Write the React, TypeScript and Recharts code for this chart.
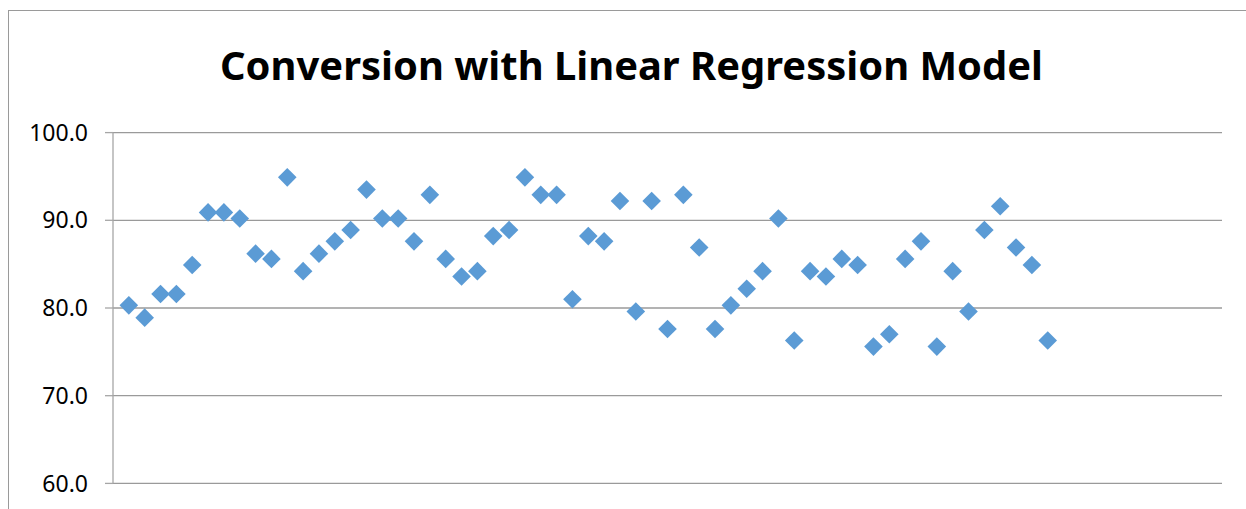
import { ScatterChart, Scatter, XAxis, YAxis, CartesianGrid, Customized } from "recharts";

const TITLE = "Conversion with Linear Regression Model";

const conversion = [
  80.3, 78.9, 81.6, 81.6, 84.9, 90.9, 90.9, 90.2, 86.2, 85.6,
  94.9, 84.2, 86.2, 87.6, 88.9, 93.5, 90.2, 90.2, 87.6, 92.9,
  85.6, 83.6, 84.2, 88.2, 88.9, 94.9, 92.9, 92.9, 81.0, 88.2,
  87.6, 92.2, 79.6, 92.2, 77.6, 92.9, 86.9, 77.6, 80.3, 82.2,
  84.2, 90.2, 76.3, 84.2, 83.6, 85.6, 84.9, 75.6, 77.0, 85.6,
  87.6, 75.6, 84.2, 79.6, 88.9, 91.6, 86.9, 84.9, 76.3,
];

const yTicks = [60, 70, 80, 90, 100];
const xDomain = [0, 70];

const points = conversion.map((v, i) => ({ x: i + 1, y: v }));

const Diamond = (props: any) => {
  const { cx, cy } = props;
  const r = 9.3;
  return (
    <polygon
      points={`${cx},${cy - r} ${cx + r},${cy} ${cx},${cy + r} ${cx - r},${cy}`}
      fill="#5B9BD5"
    />
  );
};

const Title = () => (
  <text
    x={631.5}
    y={80}
    textAnchor="middle"
    textLength={823}
    lengthAdjust="spacingAndGlyphs"
    fontFamily="'Noto Sans', sans-serif"
    fontWeight={700}
    fontSize={39}
    fill="#000"
  >
    {TITLE}
  </text>
);

export default function App() {
  return (
    <div style={{ position: "absolute", left: 0, top: 0, width: 1246, height: 509, background: "#fff", overflow: "hidden" }}>
      <div
        style={{
          position: "absolute",
          left: 8,
          top: 10,
          width: 1300,
          height: 600,
          borderTop: "1.5px solid #9a9a9a",
          borderLeft: "1.5px solid #9a9a9a",
        }}
      />
      <div style={{ position: "absolute", left: 0, top: 0 }}>
        <ScatterChart
          width={1246}
          height={509}
          margin={{ top: 132.6, right: 24, bottom: 25.6, left: 0 }}
        >
          <CartesianGrid vertical={false} stroke="#9a9a9a" strokeWidth={1.3} />
          <XAxis type="number" dataKey="x" domain={xDomain} hide />
          <YAxis
            type="number"
            dataKey="y"
            domain={[60, 100]}
            ticks={yTicks}
            width={113}
            tickSize={8}
            tickMargin={17}
            tickFormatter={(v: number) => v.toFixed(1)}
            tick={{ fill: "#000", fontSize: 23, fontFamily: "'Noto Sans', sans-serif" }}
            axisLine={{ stroke: "#a6a6a6", strokeWidth: 1.3 }}
            tickLine={{ stroke: "#a6a6a6", strokeWidth: 1.3 }}
            interval={0}
          />
          <Scatter data={points} shape={<Diamond />} isAnimationActive={false} />
          <Customized component={Title} />
        </ScatterChart>
      </div>
    </div>
  );
}
